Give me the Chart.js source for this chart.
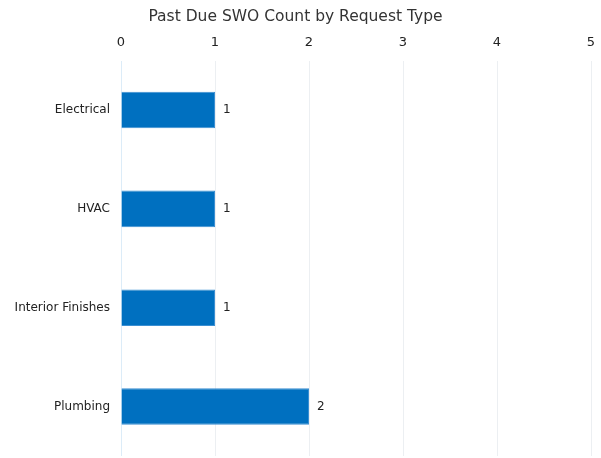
<!DOCTYPE html>
<html>
<head>
<meta charset="utf-8">
<script src="https://cdn.jsdelivr.net/npm/chart.js@4"></script>
<style>
html,body{margin:0;padding:0;background:#fff;}
#wrap{width:601px;height:458px;}
</style>
</head>
<body>
<div id="wrap"><canvas id="c" width="601" height="458"></canvas></div>
<script>
const categories = ["Electrical", "HVAC", "Interior Finishes", "Plumbing"];
const counts = [1, 1, 1, 2];
const tickValues = [0, 1, 2, 3, 4, 5];
const chartTitle = "Past Due SWO Count by Request Type";

const FONT = "'DejaVu Sans', sans-serif";

const valueLabels = {
  id: 'valueLabels',
  afterDatasetsDraw(chart) {
    const ctx = chart.ctx;
    const meta = chart.getDatasetMeta(0);
    ctx.save();
    ctx.font = "12px " + FONT;
    ctx.fillStyle = "#222";
    ctx.textAlign = "left";
    ctx.textBaseline = "middle";
    meta.data.forEach((bar, i) => {
      ctx.fillText(String(counts[i]), bar.x + 8, bar.y);
    });
    ctx.restore();
  }
};

new Chart(document.getElementById('c'), {
  type: 'bar',
  data: {
    labels: categories,
    datasets: [{
      data: counts,
      backgroundColor: '#0070c0',
      borderColor: '#3b8fd2',
      borderWidth: 1,
      barPercentage: 0.37,
      categoryPercentage: 1
    }]
  },
  options: {
    indexAxis: 'y',
    responsive: false,
    animation: false,
    layout: { padding: { left: 0, right: 10, top: 0, bottom: 2 } },
    plugins: {
      legend: { display: false },
      tooltip: { enabled: false },
      title: {
        display: true,
        text: chartTitle,
        color: '#333',
        font: { family: FONT, size: 15.5, weight: 'normal' },
        padding: { top: 8, bottom: 7 }
      }
    },
    scales: {
      x: {
        position: 'top',
        min: tickValues[0],
        max: tickValues[tickValues.length - 1],
        afterBuildTicks(scale) { scale.ticks = tickValues.map(v => ({ value: v })); },
        border: { display: false },
        grid: {
          drawTicks: false,
          color: (ctx) => ctx.tick && ctx.tick.value === 0 ? '#dcecf8' : '#eceff2',
          lineWidth: 1
        },
        ticks: { color: '#222', padding: 10, font: { family: FONT, size: 13 } },
        afterFit(scale) { scale.height = 27; scale.paddingLeft = 0; scale.paddingRight = 0; }
      },
      y: {
        border: { display: false },
        grid: { display: false, drawTicks: false },
        ticks: { color: '#222', padding: 11, font: { family: FONT, size: 12 } },
        afterFit(scale) { scale.width = 121; scale.paddingTop = 0; scale.paddingBottom = 0; }
      }
    }
  },
  plugins: [valueLabels]
});
</script>
</body>
</html>
